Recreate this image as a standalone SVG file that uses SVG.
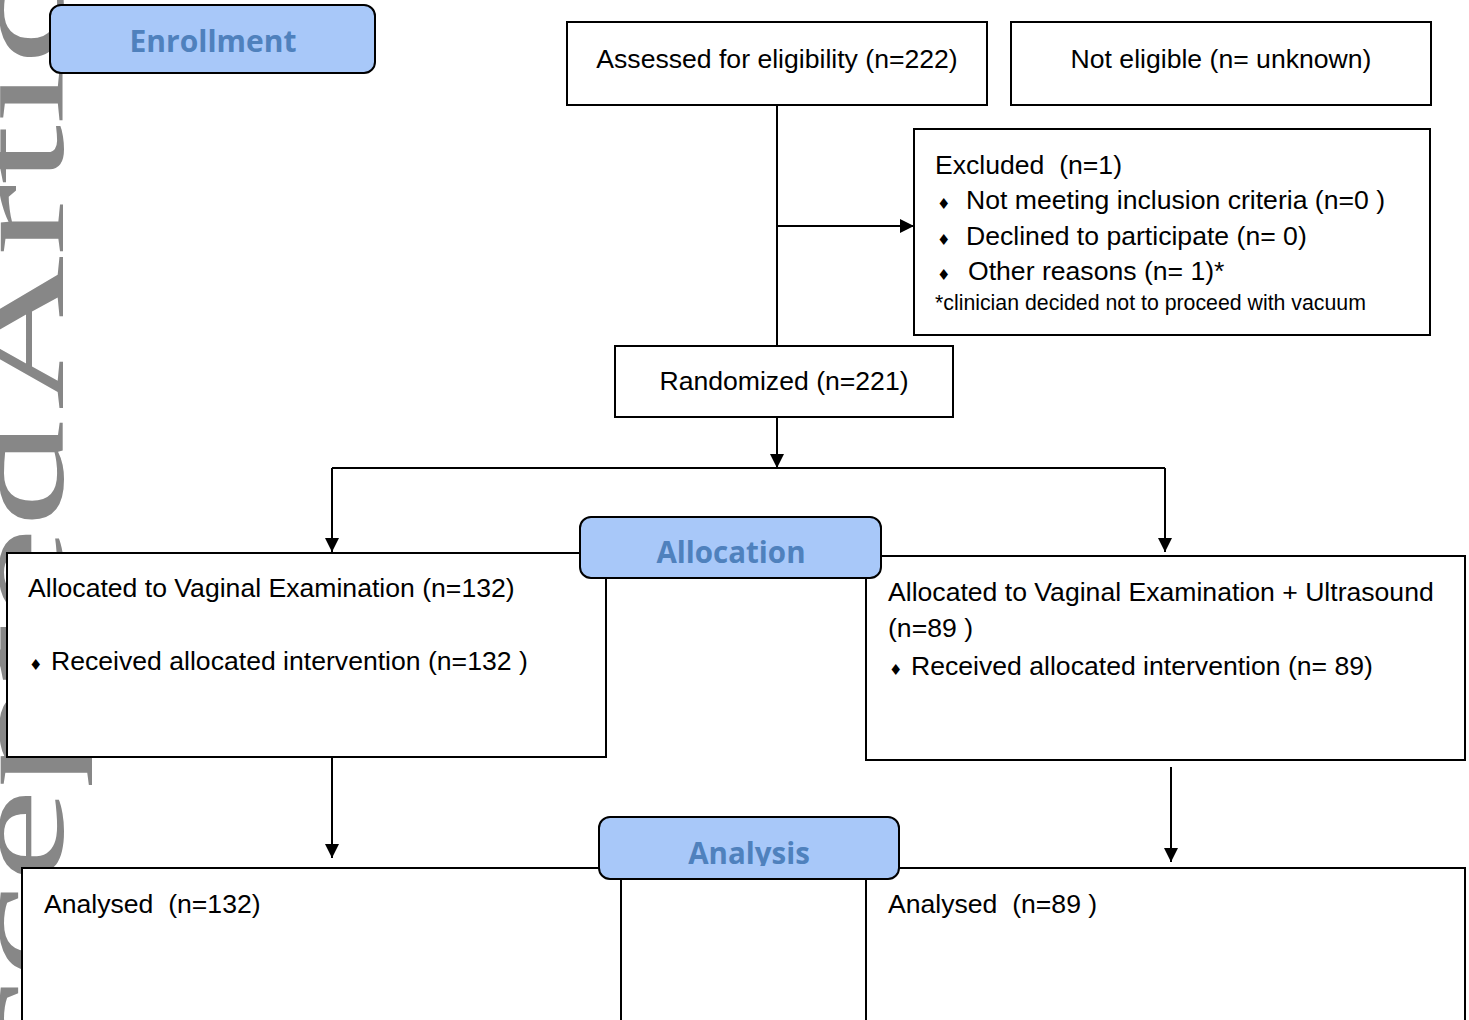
<svg xmlns="http://www.w3.org/2000/svg" width="1469" height="1020" viewBox="0 0 1469 1020">
<style>
.box{fill:#fff;stroke:#000;stroke-width:2}
.hdr{fill:#a8c8f9;stroke:#000;stroke-width:2}
.t{font-family:"Liberation Sans",Arial,sans-serif;font-size:26.6px;fill:#000;white-space:pre}
.s{font-family:"Liberation Sans",Arial,sans-serif;font-size:21.3px;fill:#000}
.h{font-family:"Open Sans","Liberation Sans",sans-serif;font-weight:700;font-size:29.5px;fill:#4f81bd;text-anchor:middle}
.b{font-family:"DejaVu Sans",sans-serif;font-size:15px;fill:#000}
.ln{fill:none;stroke:#000;stroke-width:2}
.wm{font-family:"Liberation Serif","Times New Roman",serif;font-size:135px;fill:#878787}
</style>
<defs>
<marker id="arr" viewBox="0 0 14 14" refX="14" refY="7" markerWidth="14" markerHeight="14" markerUnits="userSpaceOnUse" orient="auto">
<path d="M0,0 L14,7 L0,14 z" fill="#000"/>
</marker>
<clipPath id="anclip"><rect x="599" y="817" width="300" height="49"/></clipPath>
</defs>
<rect width="1469" height="1020" fill="#fff"/>
<g id="watermark">
<text class="wm" transform="translate(63,1228) rotate(-90) scale(1.585,1)">Accepted</text>
<text class="wm" transform="translate(63,410) rotate(-90) scale(1.585,1)">Article</text>
</g>
<g id="connectors">
<path class="ln" d="M777,105 V346"/>
<path class="ln" d="M777,226 H914" marker-end="url(#arr)"/>
<path class="ln" d="M777,417 V468" marker-end="url(#arr)"/>
<path class="ln" d="M332,468 H1165"/>
<path class="ln" d="M332,468 V552" marker-end="url(#arr)"/>
<path class="ln" d="M1165,468 V552" marker-end="url(#arr)"/>
<path class="ln" d="M332,757 V858" marker-end="url(#arr)"/>
<path class="ln" d="M1171,767 V862" marker-end="url(#arr)"/>
</g>
<g id="enrollment">
<rect class="hdr" x="50" y="5" width="325" height="68" rx="11"/>
<text class="h" x="213" y="52" style="font-size:30px">Enrollment</text>
</g>
<g id="assessed">
<rect class="box" x="567" y="22" width="420" height="83"/>
<text class="t" x="777" y="68" text-anchor="middle">Assessed for eligibility (n=222)</text>
</g>
<g id="not-eligible">
<rect class="box" x="1011" y="22" width="420" height="83"/>
<text class="t" x="1221" y="68" text-anchor="middle">Not eligible (n= unknown)</text>
</g>
<g id="excluded">
<rect class="box" x="914" y="129" width="516" height="206"/>
<text class="t" x="935" y="174">Excluded  (n=1)</text>
<text class="b" x="937" y="209">♦</text>
<text class="t" x="966" y="209">Not meeting inclusion criteria (n=0 )</text>
<text class="b" x="937" y="245">♦</text>
<text class="t" x="966" y="245">Declined to participate (n= 0)</text>
<text class="b" x="937" y="280">♦</text>
<text class="t" x="968" y="280">Other reasons (n= 1)*</text>
<text class="s" x="935" y="310">*clinician decided not to proceed with vacuum</text>
</g>
<g id="randomized">
<rect class="box" x="615" y="346" width="338" height="71"/>
<text class="t" x="784" y="390" text-anchor="middle">Randomized (n=221)</text>
</g>
<g id="alloc-left">
<rect class="box" x="7" y="553" width="599" height="204"/>
<text class="t" x="28" y="597">Allocated to Vaginal Examination (n=132)</text>
<text class="b" x="29" y="670">♦</text>
<text class="t" x="51" y="670">Received allocated intervention (n=132 )</text>
</g>
<g id="alloc-right">
<rect class="box" x="866" y="556" width="599" height="204"/>
<text class="t" x="888" y="601">Allocated to Vaginal Examination + Ultrasound</text>
<text class="t" x="888" y="637">(n=89 )</text>
<text class="b" x="889" y="675">♦</text>
<text class="t" x="911" y="675">Received allocated intervention (n= 89)</text>
</g>
<g id="allocation">
<rect class="hdr" x="580" y="517" width="301" height="61" rx="11"/>
<text class="h" x="731" y="563">Allocation</text>
</g>
<g id="analysed-left">
<rect class="box" x="22" y="868" width="599" height="170"/>
<text class="t" x="44" y="913">Analysed  (n=132)</text>
</g>
<g id="analysed-right">
<rect class="box" x="866" y="868" width="599" height="170"/>
<text class="t" x="888" y="913">Analysed  (n=89 )</text>
</g>
<g id="analysis">
<rect class="hdr" x="599" y="817" width="300" height="62" rx="11"/>
<text class="h" x="749" y="864" clip-path="url(#anclip)">Analysis</text>
</g>
</svg>
